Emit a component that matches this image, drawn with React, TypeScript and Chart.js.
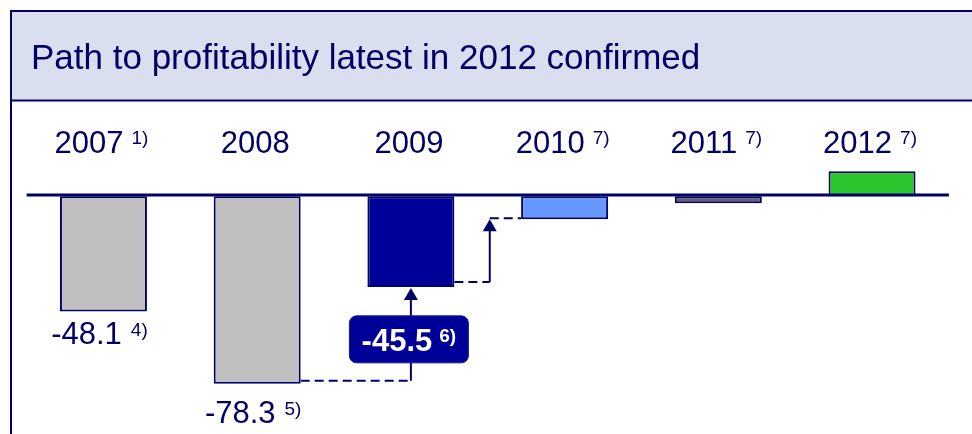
import React, { useEffect, useRef } from "react";
import { Chart, registerables } from "chart.js";

Chart.register(...registerables);

const title = "Path to profitability latest in 2012 confirmed";
const years = ["2007", "2008", "2009", "2010", "2011", "2012"];
const yearNotes = ["1)", "", "", "7)", "7)", "7)"];
const values = [-48.1, -78.3, -37.9, -9.6, -2.9, 10.5];
const barColors = ["#C0C0C0", "#C0C0C0", "#000099", "#6699FF", "#606070", "#2CC42C"];
const valueLabels = ["-48.1", "-78.3"];
const valueNotes = ["4)", "5)"];
const bridgeLabel = "-45.5";
const bridgeNote = "6)";

const NAVY = "#000066";
const FONT = "'Liberation Sans', Arial, sans-serif";

function drawWithSup(
  ctx: CanvasRenderingContext2D,
  main: string,
  sup: string,
  cx: number,
  baseline: number,
  mainFont: string,
  supFont: string,
  gap: number,
  rise: number,
  color: string
) {
  ctx.font = mainFont;
  const w1 = ctx.measureText(main).width;
  ctx.font = supFont;
  const w2 = sup ? ctx.measureText(sup).width : 0;
  const total = w1 + (sup ? gap + w2 : 0);
  const x = cx - total / 2;
  ctx.fillStyle = color;
  ctx.textAlign = "left";
  ctx.textBaseline = "alphabetic";
  ctx.font = mainFont;
  ctx.fillText(main, x, baseline);
  if (sup) {
    ctx.font = supFont;
    ctx.fillText(sup, x + w1 + gap, baseline - rise);
  }
}

function arrowUp(ctx: CanvasRenderingContext2D, x: number, yFrom: number, yTip: number) {
  const head = 12;
  const half = 7;
  ctx.setLineDash([]);
  ctx.beginPath();
  ctx.moveTo(x, yFrom);
  ctx.lineTo(x, yTip + head - 1);
  ctx.stroke();
  ctx.beginPath();
  ctx.moveTo(x, yTip);
  ctx.lineTo(x - half, yTip + head);
  ctx.lineTo(x + half, yTip + head);
  ctx.closePath();
  ctx.fill();
}

function dashed(ctx: CanvasRenderingContext2D, x1: number, y1: number, x2: number, y2: number) {
  ctx.setLineDash([9, 5]);
  ctx.beginPath();
  ctx.moveTo(x1, y1);
  ctx.lineTo(x2, y2);
  ctx.stroke();
  ctx.setLineDash([]);
}

const decorPlugin = {
  id: "decor",
  beforeDraw(chart: any) {
    const ctx: CanvasRenderingContext2D = chart.ctx;
    const W = chart.width;
    const H = chart.height;
    ctx.save();
    // header box
    ctx.fillStyle = "#D9DFEE";
    ctx.fillRect(11, 11, W - 11, 89);
    ctx.strokeStyle = NAVY;
    ctx.lineWidth = 2;
    ctx.beginPath();
    ctx.moveTo(10, 11);
    ctx.lineTo(W, 11);
    ctx.moveTo(10, 100.5);
    ctx.lineTo(W, 100.5);
    ctx.moveTo(11, 10);
    ctx.lineTo(11, H);
    ctx.stroke();
    // title
    ctx.fillStyle = NAVY;
    ctx.font = `35px ${FONT}`;
    ctx.textAlign = "left";
    ctx.textBaseline = "alphabetic";
    ctx.fillText(title, 31, 69);
    ctx.restore();
  },
  afterDatasetsDraw(chart: any) {
    const ctx: CanvasRenderingContext2D = chart.ctx;
    const xs = chart.scales.x;
    const ys = chart.scales.y;
    const area = chart.chartArea;
    const bars = chart.getDatasetMeta(0).data;
    ctx.save();

    // zero line
    const y0 = ys.getPixelForValue(0) - 1.3;
    ctx.strokeStyle = NAVY;
    ctx.lineWidth = 3;
    ctx.beginPath();
    ctx.moveTo(area.left, y0);
    ctx.lineTo(area.right, y0);
    ctx.stroke();

    // year labels
    years.forEach((yr, i) => {
      const cx = xs.getPixelForValue(i) - 2;
      drawWithSup(ctx, yr, yearNotes[i], cx, 153, `31px ${FONT}`, `19px ${FONT}`, 8, 9.5, NAVY);
    });

    // value labels under 2007 / 2008
    const offs = [33, 39];
    valueLabels.forEach((lbl, i) => {
      const b = bars[i];
      drawWithSup(ctx, lbl, valueNotes[i], b.x - 4, b.y + offs[i], `31px ${FONT}`, `19px ${FONT}`, 9, 8, NAVY);
    });

    // connectors
    ctx.strokeStyle = NAVY;
    ctx.fillStyle = NAVY;
    ctx.lineWidth = 2;
    const b1 = bars[1];
    const b2 = bars[2];
    const b3 = bars[3];
    const yLow = b1.y - 3;
    dashed(ctx, b1.x + b1.width / 2, yLow, b2.x, yLow);

    // bridge box
    const boxW = 119;
    const boxH = 47;
    const bcx = b2.x - 2;
    const bcy = (b1.y + b2.y) / 2 + 4;
    const boxTop = bcy - boxH / 2;
    const boxBot = bcy + boxH / 2;
    ctx.beginPath();
    ctx.moveTo(b2.x, yLow);
    ctx.lineTo(b2.x, boxBot);
    ctx.stroke();
    arrowUp(ctx, b2.x, boxTop, b2.y + 1);
    ctx.fillStyle = "#000099";
    ctx.beginPath();
    (ctx as any).roundRect(bcx - boxW / 2, boxTop, boxW, boxH, 7);
    ctx.fill();
    ctx.strokeStyle = "#1A1A80";
    ctx.lineWidth = 1;
    ctx.stroke();
    drawWithSup(ctx, bridgeLabel, bridgeNote, bcx, bcy + 12, `bold 31px ${FONT}`, `bold 19px ${FONT}`, 7, 9, "#FFFFFF");

    // second connector 2009 -> 2010
    ctx.strokeStyle = NAVY;
    ctx.fillStyle = NAVY;
    ctx.lineWidth = 2;
    const ax = (b2.x + b2.width / 2 + b3.x - b3.width / 2) / 2 + 2;
    const yMid = b2.y - 5;
    dashed(ctx, b2.x + b2.width / 2, yMid, ax, yMid);
    arrowUp(ctx, ax, yMid, b3.y);
    dashed(ctx, ax, b3.y - 1, b3.x - b3.width / 2, b3.y - 1);

    ctx.restore();
  },
};

export default function App() {
  const canvasRef = useRef<HTMLCanvasElement | null>(null);

  useEffect(() => {
    if (!canvasRef.current) return;
    const chart = new Chart(canvasRef.current, {
      type: "bar",
      data: {
        labels: years,
        datasets: [
          {
            data: values,
            backgroundColor: barColors,
            borderColor: NAVY,
            borderWidth: 2,
            borderSkipped: false,
            barPercentage: 0.566,
            categoryPercentage: 1,
          },
        ],
      },
      options: {
        responsive: false,
        animation: false,
        events: [],
        layout: { padding: { left: 26.6, right: 23.1, top: 100.5, bottom: 0 } },
        plugins: {
          legend: { display: false },
          tooltip: { enabled: false },
          title: { display: false },
        },
        scales: {
          x: { display: false, offset: true, grid: { display: false } },
          y: { display: false, min: -99.3, max: 40, grid: { display: false } },
        },
      },
      plugins: [decorPlugin],
    });
    return () => chart.destroy();
  }, []);

  return (
    <div style={{ position: "fixed", left: 0, top: 0, width: 972, height: 434, background: "#FFFFFF" }}>
      <canvas ref={canvasRef} width={972} height={434} style={{ display: "block", width: 972, height: 434 }} />
    </div>
  );
}
